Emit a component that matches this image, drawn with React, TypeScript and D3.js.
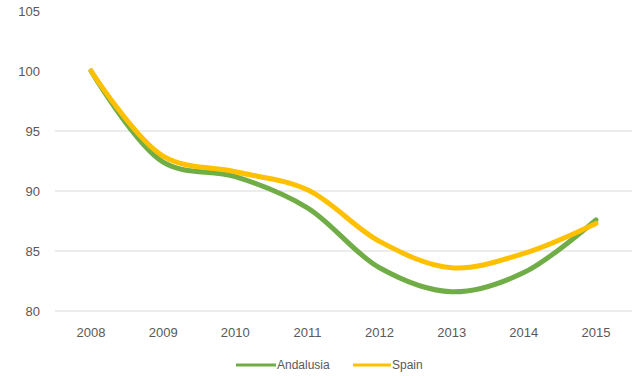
import React from "react";
import * as d3 from "d3";

const years = ["2008", "2009", "2010", "2011", "2012", "2013", "2014", "2015"];
const andalusia = [100, 92.4, 91.2, 88.6, 83.6, 81.6, 83.2, 87.6];
const spain = [100, 92.9, 91.6, 90.1, 85.8, 83.6, 84.8, 87.3];
const yTicks = [80, 85, 90, 95, 100, 105];
const gridTicks = [80, 85, 90, 95];

const W = 632;
const H = 376;
const left = 55;
const right = 632;

export default function App() {
  const x = d3.scalePoint<string>().domain(years).range([left, right]).padding(0.5);
  const y = d3.scaleLinear().domain([80, 105]).range([311, 11]);

  const line = d3
    .line<number>()
    .x((_, i) => x(years[i]) as number)
    .y((d) => y(d))
    .curve(d3.curveCatmullRom.alpha(0.5));

  const font = "'Liberation Sans', Arial, sans-serif";
  const textColor = "#595959";

  return (
    <svg
      width={W}
      height={H}
      style={{ position: "absolute", left: 0, top: 0, background: "#fff" }}
    >
      {gridTicks.map((t) => (
        <line key={t} x1={left} x2={right} y1={y(t)} y2={y(t)} stroke="#d9d9d9" strokeWidth={1} />
      ))}
      {yTicks.map((t) => (
        <text
          key={t}
          x={40}
          y={y(t)}
          dy="0.35em"
          textAnchor="end"
          fontFamily={font}
          fontSize={13}
          fill={textColor}
        >
          {t}
        </text>
      ))}
      {years.map((yr) => (
        <text
          key={yr}
          x={x(yr)}
          y={332}
          dy="0.35em"
          textAnchor="middle"
          fontFamily={font}
          fontSize={13}
          fill={textColor}
        >
          {yr}
        </text>
      ))}
      <path d={line(andalusia) ?? ""} fill="none" stroke="#70AD47" strokeWidth={5} strokeLinecap="round" />
      <path d={line(spain) ?? ""} fill="none" stroke="#FFC000" strokeWidth={5} strokeLinecap="round" />
      {/* legend */}
      <line x1={236} x2={276} y1={365} y2={365} stroke="#70AD47" strokeWidth={3} />
      <text x={277} y={365} dy="0.35em" fontFamily={font} fontSize={12} fill={textColor}>
        Andalusia
      </text>
      <line x1={353} x2={391} y1={365} y2={365} stroke="#FFC000" strokeWidth={3} />
      <text x={392} y={365} dy="0.35em" fontFamily={font} fontSize={12} fill={textColor}>
        Spain
      </text>
    </svg>
  );
}
